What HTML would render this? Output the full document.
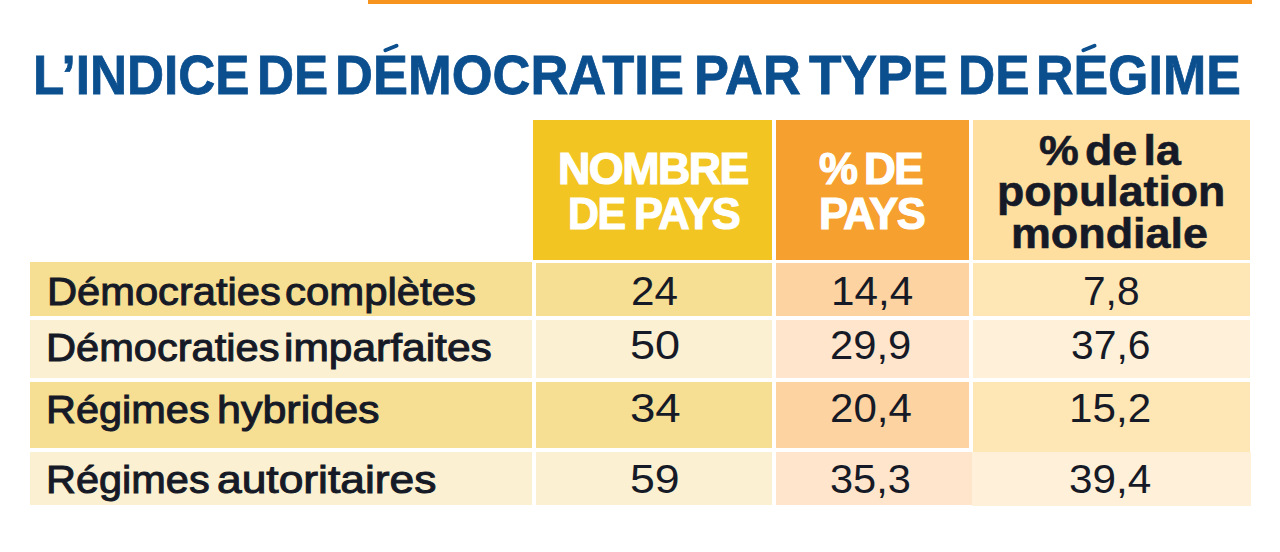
<!DOCTYPE html>
<html><head><meta charset="utf-8">
<title>L’indice de démocratie par type de régime</title>
<style>
html,body{margin:0;padding:0;background:#fff;width:1280px;height:552px;overflow:hidden;position:relative;font-family:"Liberation Sans",sans-serif;}
.a{position:absolute;}
.t{position:absolute;white-space:nowrap;transform-origin:0 0;}
</style></head><body>
<div class="a" style="left:368px;top:0px;width:884px;height:4px;background:#F7941D;"></div>
<div class="a" style="left:533px;top:120px;width:239px;height:140px;background:#F2C523;"></div>
<div class="a" style="left:776px;top:120px;width:193px;height:140px;background:#F6A02F;"></div>
<div class="a" style="left:973px;top:120px;width:277px;height:140px;background:#FEDF9F;"></div>
<div class="a" style="left:30px;top:262px;width:502px;height:54px;background:#F6DE93;"></div>
<div class="a" style="left:536px;top:263px;width:236px;height:53px;background:#F6DE93;"></div>
<div class="a" style="left:776px;top:263px;width:193px;height:53px;background:#FDD3A2;"></div>
<div class="a" style="left:973px;top:263px;width:277px;height:53px;background:#FEE6B5;"></div>
<div class="a" style="left:30px;top:320px;width:502px;height:58px;background:#FBF0D2;"></div>
<div class="a" style="left:536px;top:320px;width:236px;height:58px;background:#FBF0D2;"></div>
<div class="a" style="left:776px;top:320px;width:193px;height:58px;background:#FFE5CC;"></div>
<div class="a" style="left:973px;top:320px;width:277px;height:58px;background:#FFF1D9;"></div>
<div class="a" style="left:30px;top:382px;width:502px;height:66px;background:#F6DE93;"></div>
<div class="a" style="left:536px;top:382px;width:236px;height:66px;background:#F6DE93;"></div>
<div class="a" style="left:776px;top:382px;width:193px;height:66px;background:#FDD3A2;"></div>
<div class="a" style="left:973px;top:382px;width:277px;height:70px;background:#FEE6B5;"></div>
<div class="a" style="left:30px;top:452px;width:502px;height:53px;background:#FBF0D2;"></div>
<div class="a" style="left:536px;top:452px;width:236px;height:53px;background:#FBF0D2;"></div>
<div class="a" style="left:776px;top:452px;width:196px;height:53px;background:#FFE5CC;"></div>
<div class="a" style="left:972px;top:452px;width:279px;height:54px;background:#FFF1D9;"></div>
<div class="t" style="left:32.54px;top:48.60px;font-size:55.5px;line-height:55.5px;font-weight:bold;color:#0B4F8F;-webkit-text-stroke:0.8px #0B4F8F;transform:scale(0.9241,0.985);">L’INDICE</div>
<div class="t" style="left:256.60px;top:48.60px;font-size:55.5px;line-height:55.5px;font-weight:bold;color:#0B4F8F;-webkit-text-stroke:0.8px #0B4F8F;transform:scale(0.9225,0.985);">DE</div>
<div class="t" style="left:335.22px;top:48.60px;font-size:55.5px;line-height:55.5px;font-weight:bold;color:#0B4F8F;-webkit-text-stroke:0.8px #0B4F8F;transform:scale(0.9458,0.985);">DÉMOCRATIE</div>
<div class="t" style="left:693.51px;top:48.60px;font-size:55.5px;line-height:55.5px;font-weight:bold;color:#0B4F8F;-webkit-text-stroke:0.8px #0B4F8F;transform:scale(0.9439,0.985);">PAR</div>
<div class="t" style="left:808.80px;top:48.60px;font-size:55.5px;line-height:55.5px;font-weight:bold;color:#0B4F8F;-webkit-text-stroke:0.8px #0B4F8F;transform:scale(0.9597,0.985);">TYPE</div>
<div class="t" style="left:958.04px;top:48.60px;font-size:55.5px;line-height:55.5px;font-weight:bold;color:#0B4F8F;-webkit-text-stroke:0.8px #0B4F8F;transform:scale(0.9269,0.985);">DE</div>
<div class="t" style="left:1036.46px;top:48.60px;font-size:55.5px;line-height:55.5px;font-weight:bold;color:#0B4F8F;-webkit-text-stroke:0.8px #0B4F8F;transform:scale(0.9354,0.985);">RÉGIME</div>
<div class="t" style="left:558.03px;top:147.80px;font-size:43.5px;line-height:43.5px;font-weight:bold;color:#fff;-webkit-text-stroke:1.2px #fff;letter-spacing:-1.5px;transform:scale(1.0306,1);">NOMBRE</div>
<div class="t" style="left:568.33px;top:192.80px;font-size:43.5px;line-height:43.5px;font-weight:bold;color:#fff;-webkit-text-stroke:1.2px #fff;letter-spacing:-1.5px;transform:scale(0.9848,1);">DE</div>
<div class="t" style="left:633.94px;top:192.80px;font-size:43.5px;line-height:43.5px;font-weight:bold;color:#fff;-webkit-text-stroke:1.2px #fff;letter-spacing:-1.5px;transform:scale(0.9990,1);">PAYS</div>
<div class="t" style="left:818.93px;top:147.80px;font-size:43.5px;line-height:43.5px;font-weight:bold;color:#fff;-webkit-text-stroke:1.2px #fff;letter-spacing:-1.5px;transform:scale(1.0077,1);">%</div>
<div class="t" style="left:864.38px;top:147.80px;font-size:43.5px;line-height:43.5px;font-weight:bold;color:#fff;-webkit-text-stroke:1.2px #fff;letter-spacing:-1.5px;transform:scale(1.0119,1);">DE</div>
<div class="t" style="left:818.94px;top:192.80px;font-size:43.5px;line-height:43.5px;font-weight:bold;color:#fff;-webkit-text-stroke:1.2px #fff;letter-spacing:-1.5px;transform:scale(0.9998,1);">PAYS</div>
<div class="t" style="left:1039.36px;top:128.70px;font-size:43px;line-height:43px;font-weight:bold;color:#161a26;-webkit-text-stroke:0.6px #161a26;word-spacing:-6px;transform:scale(1.0414,1);">% de la</div>
<div class="t" style="left:996.62px;top:170.45px;font-size:43px;line-height:43px;font-weight:bold;color:#161a26;-webkit-text-stroke:0.6px #161a26;transform:scale(1.0395,1);">population</div>
<div class="t" style="left:1011.45px;top:212.20px;font-size:43px;line-height:43px;font-weight:bold;color:#161a26;-webkit-text-stroke:0.6px #161a26;transform:scale(1.0428,1);">mondiale</div>
<div class="t" style="left:47.18px;top:273.40px;font-size:38.5px;line-height:38.5px;color:#161a26;-webkit-text-stroke:1.0px #161a26;transform:scale(1.0817,1);">Démocraties</div>
<div class="t" style="left:284.79px;top:273.40px;font-size:38.5px;line-height:38.5px;color:#161a26;-webkit-text-stroke:1.0px #161a26;transform:scale(1.0884,1);">complètes</div>
<div class="t" style="left:46.19px;top:329.00px;font-size:38.5px;line-height:38.5px;color:#161a26;-webkit-text-stroke:1.0px #161a26;transform:scale(1.0803,1);">Démocraties</div>
<div class="t" style="left:284.46px;top:329.00px;font-size:38.5px;line-height:38.5px;color:#161a26;-webkit-text-stroke:1.0px #161a26;transform:scale(1.1036,1);">imparfaites</div>
<div class="t" style="left:46.21px;top:391.20px;font-size:38.5px;line-height:38.5px;color:#161a26;-webkit-text-stroke:1.0px #161a26;transform:scale(1.0774,1);">Régimes</div>
<div class="t" style="left:216.82px;top:391.20px;font-size:38.5px;line-height:38.5px;color:#161a26;-webkit-text-stroke:1.0px #161a26;transform:scale(1.1170,1);">hybrides</div>
<div class="t" style="left:46.25px;top:461.20px;font-size:38.5px;line-height:38.5px;color:#161a26;-webkit-text-stroke:1.0px #161a26;transform:scale(1.0773,1);">Régimes</div>
<div class="t" style="left:216.63px;top:461.20px;font-size:38.5px;line-height:38.5px;color:#161a26;-webkit-text-stroke:1.0px #161a26;transform:scale(1.1519,1);">autoritaires</div>
<div class="t" style="left:630.57px;top:270.60px;font-size:41px;line-height:41px;color:#161a26;transform:scale(1.0292,1);">24</div>
<div class="t" style="left:831.28px;top:270.60px;font-size:41px;line-height:41px;color:#161a26;transform:scale(1.0301,1);">14,4</div>
<div class="t" style="left:1082.82px;top:270.60px;font-size:41px;line-height:41px;color:#161a26;transform:scale(0.9912,1);">7,8</div>
<div class="t" style="left:629.59px;top:324.80px;font-size:41px;line-height:41px;color:#161a26;transform:scale(1.0988,1);">50</div>
<div class="t" style="left:829.59px;top:324.80px;font-size:41px;line-height:41px;color:#161a26;transform:scale(1.0182,1);">29,9</div>
<div class="t" style="left:1071.46px;top:324.80px;font-size:41px;line-height:41px;color:#161a26;transform:scale(0.9958,1);">37,6</div>
<div class="t" style="left:629.98px;top:388.30px;font-size:41px;line-height:41px;color:#161a26;transform:scale(1.1128,1);">34</div>
<div class="t" style="left:829.58px;top:388.30px;font-size:41px;line-height:41px;color:#161a26;transform:scale(1.0255,1);">20,4</div>
<div class="t" style="left:1069.30px;top:388.30px;font-size:41px;line-height:41px;color:#161a26;transform:scale(1.0288,1);">15,2</div>
<div class="t" style="left:629.63px;top:458.80px;font-size:41px;line-height:41px;color:#161a26;transform:scale(1.0903,1);">59</div>
<div class="t" style="left:830.25px;top:458.80px;font-size:41px;line-height:41px;color:#161a26;transform:scale(1.0137,1);">35,3</div>
<div class="t" style="left:1069.02px;top:458.80px;font-size:41px;line-height:41px;color:#161a26;transform:scale(1.0314,1);">39,4</div>
<div class="a" style="left:370px;top:30px;width:42px;height:24px;background:#fff;"></div>
<div class="a" style="left:1069px;top:30px;width:42px;height:24px;background:#fff;"></div>
<div class="a" style="left:382.80px;top:46.05px;width:16px;height:4.2px;border-radius:2.1px;background:#0B4F8F;transform:rotate(-22deg);"></div>
<div class="a" style="left:1081.40px;top:46.05px;width:16px;height:4.2px;border-radius:2.1px;background:#0B4F8F;transform:rotate(-22deg);"></div>
</body></html>
